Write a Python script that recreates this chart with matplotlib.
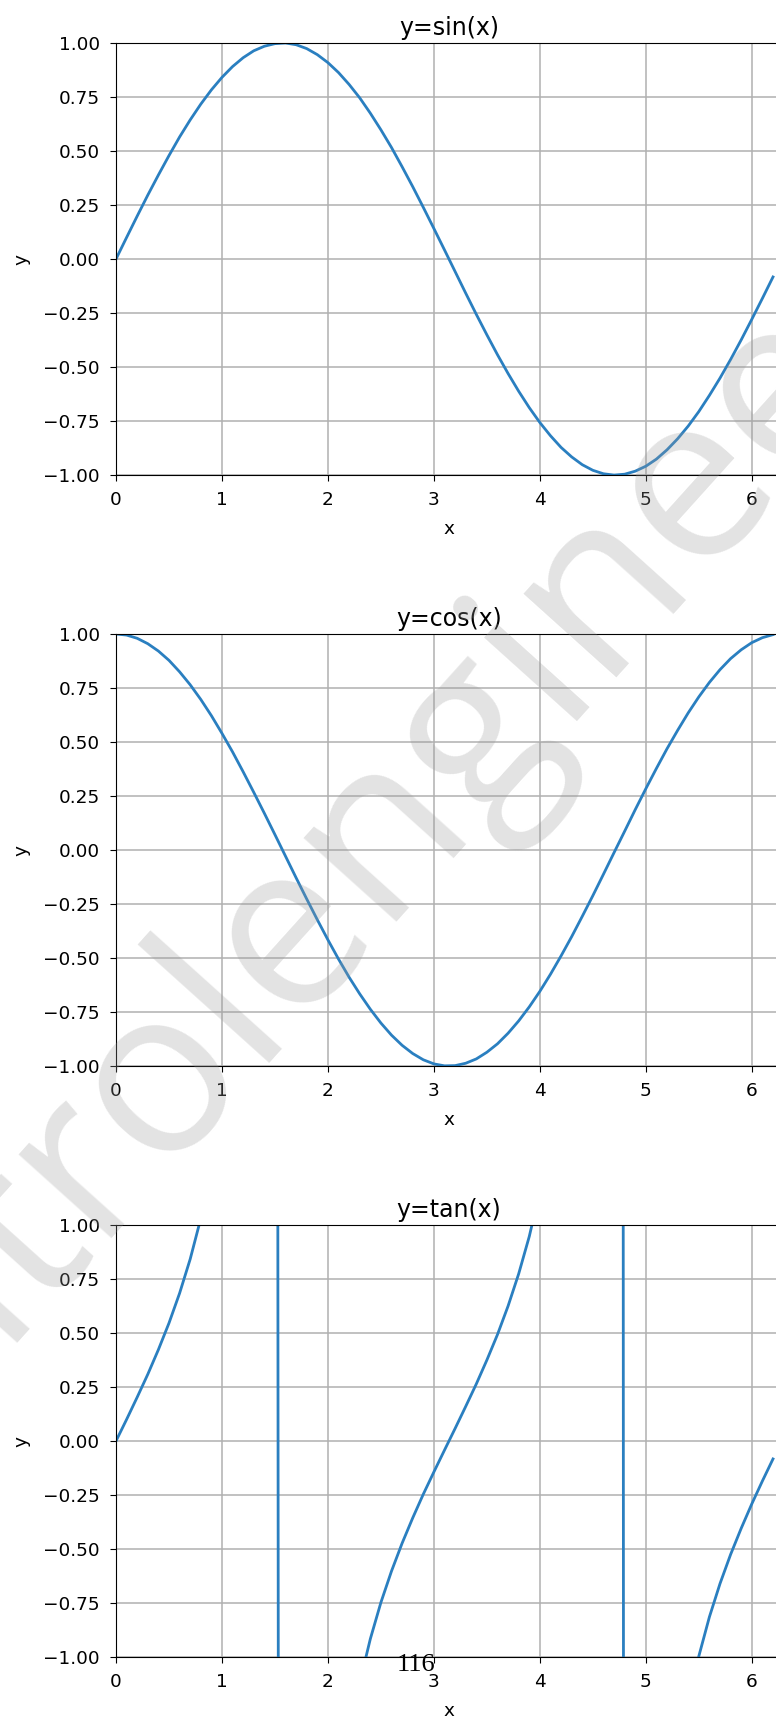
import matplotlib
matplotlib.use("Agg")
import numpy as np
from matplotlib import pyplot as plt

# sample points (step 0.1 from 0 to 6.2)
x = [0.0, 0.1, 0.2, 0.3, 0.4, 0.5, 0.6, 0.7, 0.8, 0.9,
     1.0, 1.1, 1.2, 1.3, 1.4, 1.5, 1.6, 1.7, 1.8, 1.9,
     2.0, 2.1, 2.2, 2.3, 2.4, 2.5, 2.6, 2.7, 2.8, 2.9,
     3.0, 3.1, 3.2, 3.3, 3.4, 3.5, 3.6, 3.7, 3.8, 3.9,
     4.0, 4.1, 4.2, 4.3, 4.4, 4.5, 4.6, 4.7, 4.8, 4.9,
     5.0, 5.1, 5.2, 5.3, 5.4, 5.5, 5.6, 5.7, 5.8, 5.9,
     6.0, 6.1, 6.2]

y_sin = [0.000, 0.100, 0.199, 0.296, 0.389, 0.479, 0.565, 0.644, 0.717, 0.783,
         0.841, 0.891, 0.932, 0.964, 0.985, 0.997, 1.000, 0.992, 0.974, 0.946,
         0.909, 0.863, 0.808, 0.746, 0.675, 0.598, 0.516, 0.427, 0.335, 0.239,
         0.141, 0.042, -0.058, -0.158, -0.256, -0.351, -0.443, -0.530, -0.612, -0.688,
         -0.757, -0.818, -0.872, -0.916, -0.952, -0.978, -0.994, -1.000, -0.996, -0.982,
         -0.959, -0.926, -0.883, -0.832, -0.773, -0.706, -0.631, -0.551, -0.465, -0.374,
         -0.279, -0.182, -0.083]

y_cos = [1.000, 0.995, 0.980, 0.955, 0.921, 0.878, 0.825, 0.765, 0.697, 0.622,
         0.540, 0.454, 0.362, 0.267, 0.170, 0.071, -0.029, -0.129, -0.227, -0.323,
         -0.416, -0.505, -0.589, -0.666, -0.737, -0.801, -0.857, -0.904, -0.942, -0.971,
         -0.990, -0.999, -0.998, -0.987, -0.967, -0.936, -0.897, -0.848, -0.791, -0.726,
         -0.654, -0.575, -0.490, -0.401, -0.307, -0.211, -0.112, -0.012, 0.087, 0.187,
         0.284, 0.378, 0.469, 0.554, 0.635, 0.709, 0.776, 0.835, 0.886, 0.927,
         0.960, 0.983, 0.997]

y_tan = [0.000, 0.100, 0.203, 0.309, 0.423, 0.546, 0.684, 0.842, 1.030, 1.260,
         1.557, 1.965, 2.572, 3.602, 5.798, 14.101, -34.233, -7.697, -4.286, -2.927,
         -2.185, -1.710, -1.374, -1.119, -0.916, -0.747, -0.602, -0.473, -0.356, -0.246,
         -0.143, -0.042, 0.058, 0.160, 0.264, 0.375, 0.493, 0.625, 0.774, 0.947,
         1.158, 1.424, 1.778, 2.286, 3.096, 4.637, 8.860, 80.713, -11.385, -5.267,
         -3.381, -2.449, -1.886, -1.501, -1.218, -0.996, -0.814, -0.660, -0.525, -0.404,
         -0.291, -0.185, -0.083]

titles = ["y=sin(x)", "y=cos(x)", "y=tan(x)"]
series = [y_sin, y_cos, y_tan]

plt.rcParams["font.size"] = 13.3

fig = plt.figure(figsize=(7.76, 17.2), dpi=100)
bottoms = [0.7238, 0.3802, 0.0366]
for b, title, y in zip(bottoms, titles, series):
    ax = fig.add_axes([0.1495, b, 0.858, 0.2512])
    ax.plot(x, y, color="#2a7fc0", linewidth=2.0)
    ax.set_xlim(0, 2 * np.pi)
    ax.set_ylim(-1, 1)
    ax.set_yticks([-1.0, -0.75, -0.5, -0.25, 0.0, 0.25, 0.5, 0.75, 1.0])
    ax.grid(True, color="#b0b0b0", linewidth=1.1)
    ax.set_title(title, fontsize=17)
    ax.set_xlabel("x", labelpad=8)
    ax.set_ylabel("y", labelpad=9)
    ax.tick_params(length=4.5, pad=7)

# page number and watermark from the scanned page
fig.text(0.536, 0.032, "116", family="Liberation Serif", fontsize=19,
         ha="center", va="center")
fig.text(0.447, 0.493, "controlengineers", family="Open Sans", fontsize=168,
         color="#999999", alpha=0.28, rotation=48, ha="center", va="center",
         zorder=10)

fig.savefig("out.png")
